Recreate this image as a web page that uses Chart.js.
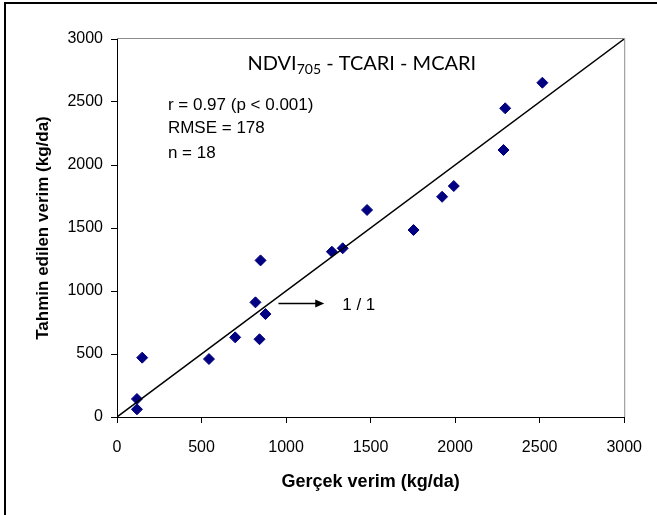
<!DOCTYPE html>
<html>
<head>
<meta charset="utf-8">
<script src="https://cdn.jsdelivr.net/npm/chart.js@4"></script>
<style>
  html, body { margin: 0; padding: 0; background: #fff; }
</style>
</head>
<body>
<canvas id="yieldChart" width="657" height="515"></canvas>
<script>
// observed (x) and predicted (y) yield, kg/da
const actualYield = [118, 118, 149, 544, 699, 843, 819, 878, 849, 1271, 1335, 1479, 1754, 1923, 1992, 2286, 2296, 2516];
const predictedYield = [61, 143, 471, 460, 632, 617, 910, 817, 1243, 1312, 1339, 1643, 1484, 1748, 1833, 2119, 2450, 2653];
const oneToOneLine = [0, 3000];
const axisTicks = [0, 500, 1000, 1500, 2000, 2500, 3000];
const statLines = ['r = 0.97 (p < 0.001)', 'RMSE = 178', 'n = 18'];

const points = actualYield.map((v, i) => ({ x: v, y: predictedYield[i] }));
const linePoints = oneToOneLine.map(v => ({ x: v, y: v }));

const tickFont = { family: 'Liberation Sans, Arial, sans-serif', size: 16 };
const titleFont = { family: 'Liberation Sans, Arial, sans-serif', size: 18, weight: 'bold' };

const extras = {
	id: 'extras',
	beforeDraw(chart) {
		const ctx = chart.ctx;
		const a = chart.chartArea;
		ctx.save();
		// outer frame
		ctx.strokeStyle = '#000';
		ctx.lineWidth = 2;
		ctx.strokeRect(5, 3, 800, 700);
		// grey top / right of plot area
		ctx.strokeStyle = '#8c8c8c';
		ctx.lineWidth = 1;
		ctx.beginPath();
		ctx.moveTo(a.left, a.top - 0.5);
		ctx.lineTo(a.right + 0.5, a.top - 0.5);
		ctx.lineTo(a.right + 0.5, a.bottom);
		ctx.stroke();
		ctx.restore();
	},
	afterDatasetsDraw(chart) {
		const ctx = chart.ctx;
		const xs = chart.scales.x;
		const ys = chart.scales.y;
		ctx.save();
		ctx.fillStyle = '#000';
		ctx.textBaseline = 'alphabetic';
		ctx.textAlign = 'left';

		// heading with subscript
		let tx = xs.getPixelForValue(772);
		const ty = ys.getPixelForValue(2754);
		ctx.font = '20px Lato, "Open Sans", sans-serif';
		ctx.fillText('NDVI', tx, ty);
		tx += ctx.measureText('NDVI').width;
		ctx.font = '14px Lato, "Open Sans", sans-serif';
		ctx.fillText('705', tx, ty + 4);
		tx += ctx.measureText('705').width;
		ctx.font = '20px Lato, "Open Sans", sans-serif';
		ctx.fillText(' - TCARI - MCARI', tx, ty);

		// statistics
		ctx.font = '17px "Liberation Sans", Arial, sans-serif';
		const sx = xs.getPixelForValue(301);
		const sy = [2437, 2252, 2053];
		statLines.forEach((s, i) => ctx.fillText(s, sx, ys.getPixelForValue(sy[i])));

		// arrow pointing at 1:1 line label
		const ax0 = xs.getPixelForValue(955);
		const ax1 = xs.getPixelForValue(1226);
		const ay = Math.round(ys.getPixelForValue(907)) + 0.5;
		ctx.strokeStyle = '#000';
		ctx.lineWidth = 1.5;
		ctx.beginPath();
		ctx.moveTo(ax0, ay);
		ctx.lineTo(ax1 - 6, ay);
		ctx.stroke();
		ctx.beginPath();
		ctx.moveTo(ax1, ay);
		ctx.lineTo(ax1 - 9, ay - 4);
		ctx.lineTo(ax1 - 9, ay + 4);
		ctx.closePath();
		ctx.fill();
		ctx.fillText('1 / 1', xs.getPixelForValue(1332), ys.getPixelForValue(849));
		ctx.restore();
	}
};

new Chart(document.getElementById('yieldChart'), {
	type: 'scatter',
	data: {
		datasets: [{
			type: 'line',
			data: linePoints,
			borderColor: '#000',
			borderWidth: 1.5,
			pointRadius: 0,
			fill: false
		}, {
			data: points,
			pointStyle: 'rectRot',
			pointRadius: 5.5,
			backgroundColor: '#000080',
			borderColor: '#000080',
			borderWidth: 1
		}]
	},
	options: {
		responsive: false,
		animation: false,
		events: [],
		layout: {
			padding: { top: 39, right: 31, bottom: 0, left: 0 }
		},
		scales: {
			x: {
				type: 'linear',
				min: 0,
				max: 3000,
				afterBuildTicks: s => { s.ticks = axisTicks.map(v => ({ value: v })); },
				afterFit: s => { s.height = 98; },
				grid: { drawOnChartArea: false, drawTicks: true, tickLength: 6, color: '#000' },
				border: { display: true, color: '#000', width: 1 },
				ticks: { font: tickFont, color: '#000', padding: 15, maxRotation: 0, callback: v => String(v) },
				title: { display: true, text: 'Gerçek verim (kg/da)', font: titleFont, color: '#000', padding: { top: 0, bottom: 22 } }
			},
			y: {
				type: 'linear',
				min: 0,
				max: 3000,
				afterBuildTicks: s => { s.ticks = axisTicks.map(v => ({ value: v })); },
				afterFit: s => { s.width = 117; },
				grid: { drawOnChartArea: false, drawTicks: true, tickLength: 6, color: '#000' },
				border: { display: true, color: '#000', width: 1 },
				ticks: { font: tickFont, color: '#000', padding: 8, callback: v => String(v) },
				title: { display: true, text: 'Tahmin edilen verim (kg/da)', font: { ...titleFont, size: 17 }, color: '#000', padding: { top: 33, bottom: 0 } }
			}
		},
		plugins: {
			legend: { display: false },
			tooltip: { enabled: false }
		}
	},
	plugins: [extras]
});
</script>
</body>
</html>
